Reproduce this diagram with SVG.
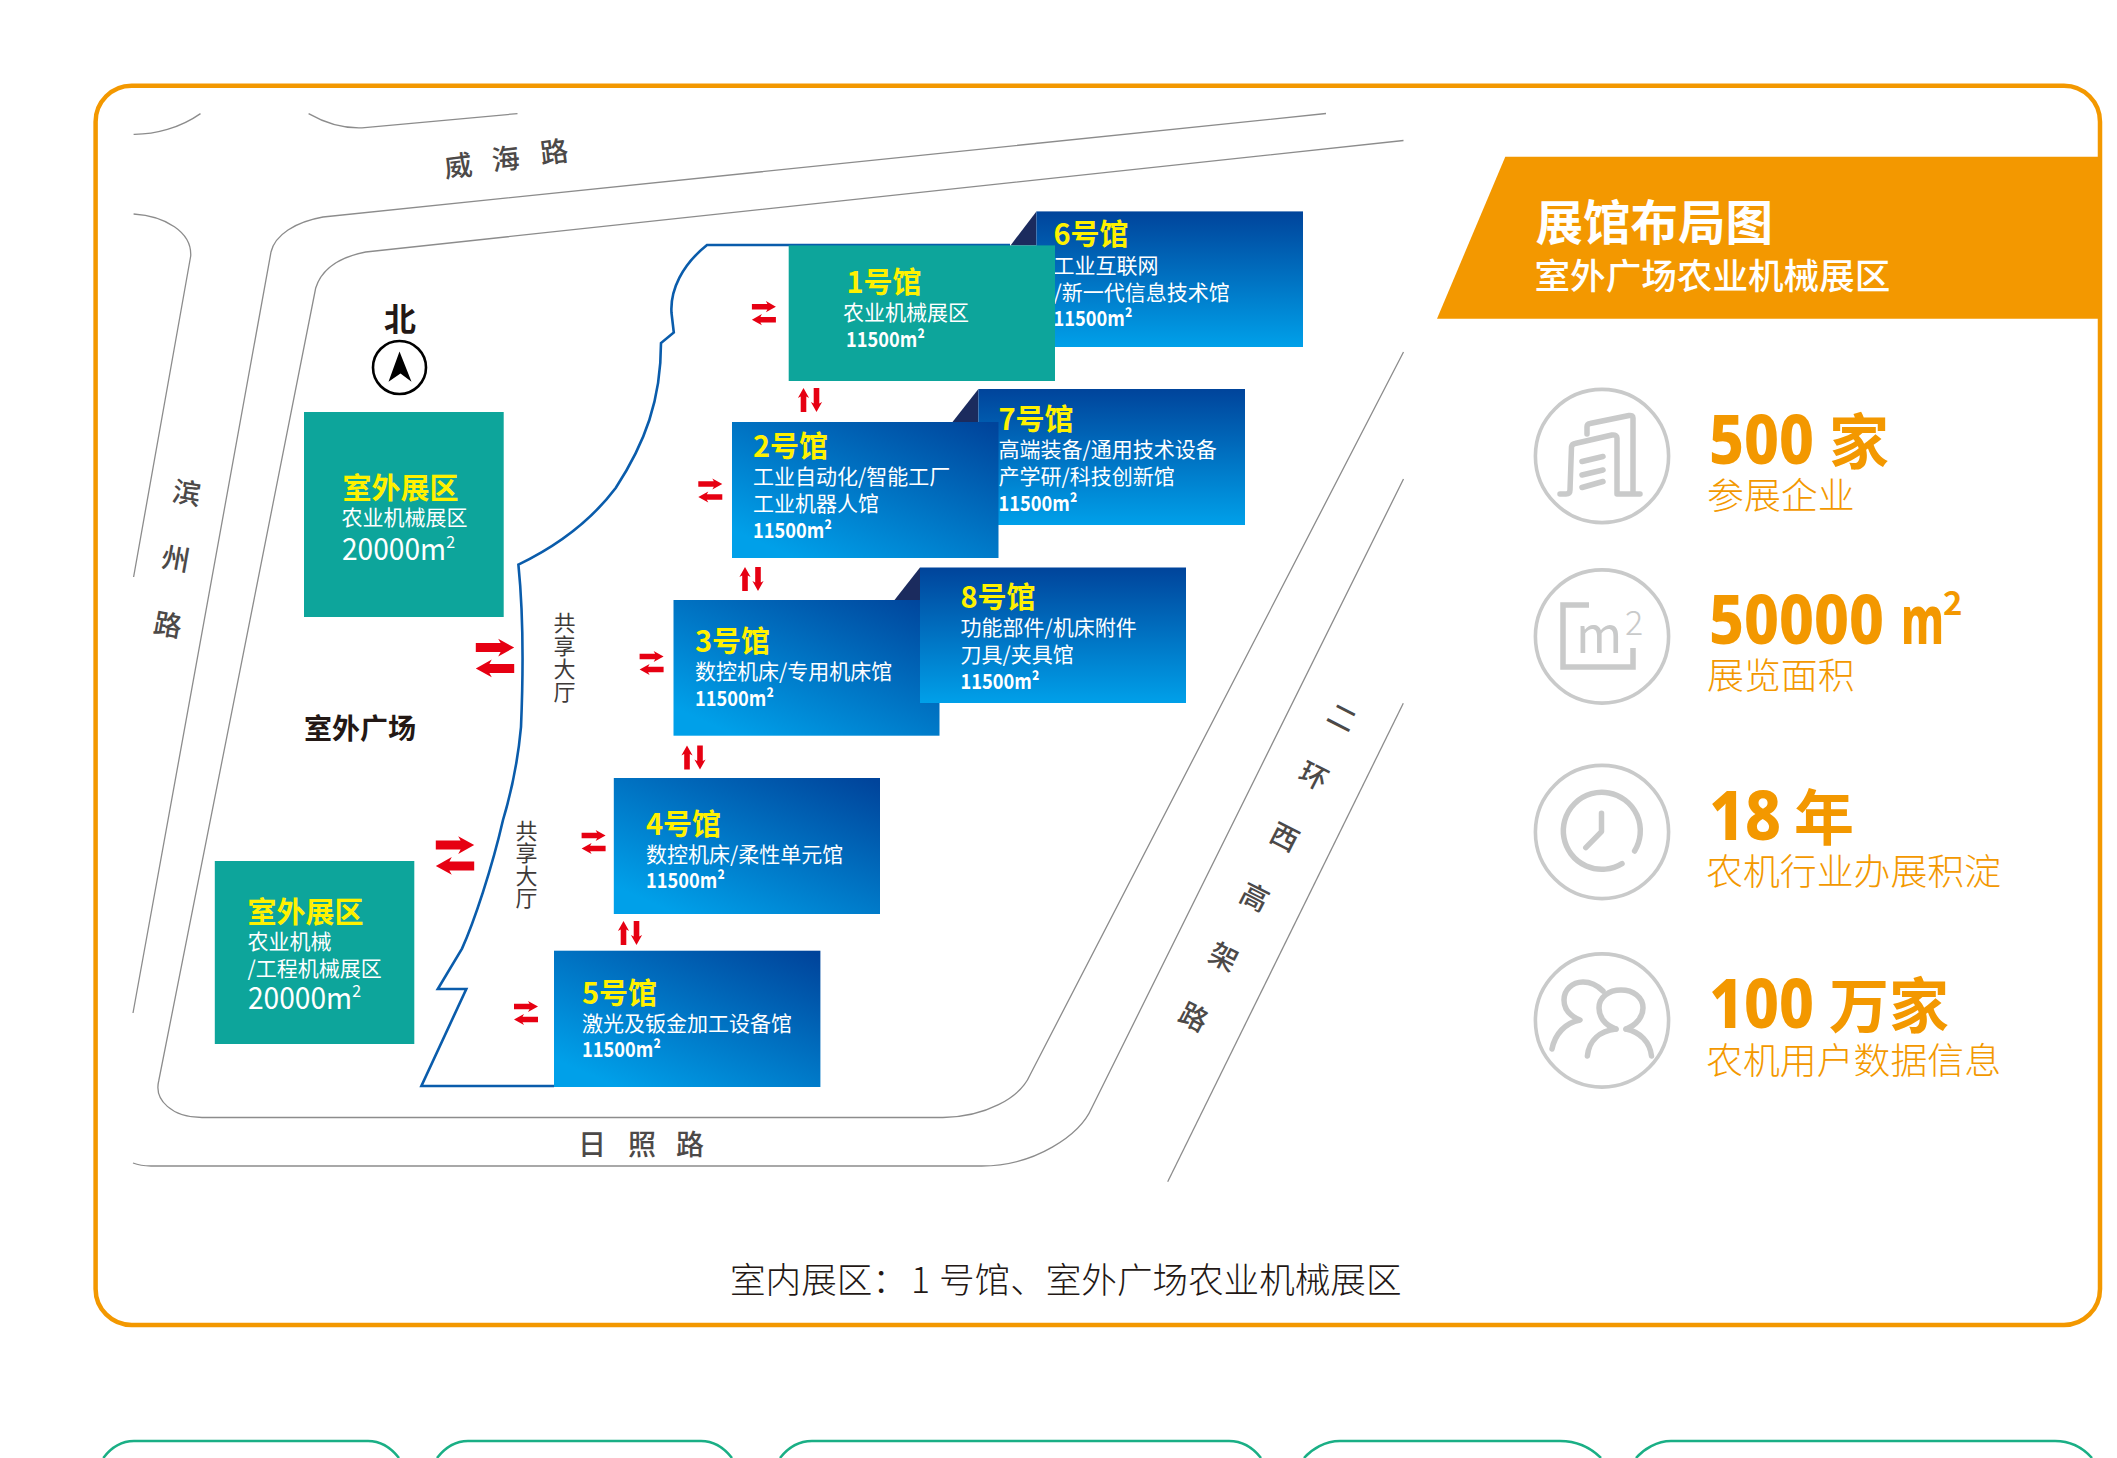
<svg xmlns="http://www.w3.org/2000/svg" width="2117" height="1458" viewBox="0 0 2117 1458">
<style>
text{font-family:"Noto Sans CJK SC","Noto Sans",sans-serif}
.road{fill:none;stroke:#8c8c8c;stroke-width:1.3}
.tt{font-size:29px;font-weight:700;fill:#fff100}
.sb{font-size:21px;fill:#fff}
.nm{font-size:21px;font-weight:700;fill:#fff}
.ar{font-size:30px;fill:#fff}
.rd{font-size:28px;font-weight:500;fill:#4c4948;text-anchor:middle}
.hall{font-size:22px;fill:#3e3a39;text-anchor:middle}
.big{font-size:60px;font-weight:700;fill:#f39800}
.dg{font-family:"Noto Sans",sans-serif;font-size:67px;font-weight:800}
.sm{font-size:36.9px;font-weight:300;fill:#f39800}
.ic{fill:none;stroke:#c9caca;stroke-width:5.5;stroke-linecap:round;stroke-linejoin:round}
.ring{fill:none;stroke:#c9caca;stroke-width:3.6}
.tab{fill:none;stroke:#1aaf85;stroke-width:2.5}
</style>
<defs>
<linearGradient id="gv" x1="0" y1="0" x2="0" y2="1"><stop offset="0" stop-color="#00449b"/><stop offset="1" stop-color="#00a0e9"/></linearGradient>
<linearGradient id="gd" x1="0.18" y1="0.95" x2="0.98" y2="0.02"><stop offset="0" stop-color="#00a0e9"/><stop offset="1" stop-color="#00449b"/></linearGradient>
<path id="ar" fill="#e60012" d="M-12,-2.8H3.5L2,-5.6L12,0L2,5.6L3.5,2.8H-12Z"/>
<g id="pair"><use href="#ar" y="-6.5"/><use href="#ar" transform="translate(0,6.5) rotate(180)"/></g>
</defs>
<rect width="2117" height="1458" fill="#fff"/>

<g id="frame"><rect x="95.6" y="85.7" width="2004.4" height="1239.3" rx="36" ry="36" fill="none" stroke="#f39800" stroke-width="4.5"/></g>

<g id="roads">
<path class="road" d="M133.6,134.3C155,134.5 180,128 200.5,113.6"/>
<path class="road" d="M308.6,113.6C325,123 342,128.5 362,127.8L517.5,113.6"/>
<path class="road" d="M133.6,214C165,216 192,232 190.7,256L133.6,577"/>
<path class="road" d="M1326,113.5L323,217C295,222 275,235 271,252L133,1013"/>
<path class="road" d="M1403.500,140.500L365.7,252C340,257 322,268 315.7,288L158.7,1081C154,1100 172,1117.500 202,1117.500H943C985,1117 1020,1098 1030,1075L1403.500,352"/>
<path class="road" d="M133,1163C138,1165 144,1166 151,1166H981.7C1035,1166 1080,1135 1091.7,1108L1403.500,479"/>
<path class="road" d="M1403.300,703.300L1167.7,1181.7"/>
</g>

<g id="building-outline"><path fill="none" stroke="#0a5cab" stroke-width="2.6" d="M1010,245H707C682,265 670,290 671.5,313L673.8,332.5L661,343C661,400 645,443 615.7,488C590,522 555,547 518.4,564.6C524,620 523,680 521,727C518,760 512,790 503,820C492,868 474,922 462,948.6L437.8,989H466.3L421.4,1086H554"/></g>

<g id="road-labels">
<text class="rd" transform="translate(459.5,176) rotate(-7)">威</text>
<text class="rd" transform="translate(507,169) rotate(-7)">海</text>
<text class="rd" transform="translate(555.4,162) rotate(-7)">路</text>
<text class="rd" transform="translate(185,503) rotate(10)">滨</text>
<text class="rd" transform="translate(174,569) rotate(10)">州</text>
<text class="rd" transform="translate(166,635) rotate(10)">路</text>
<text class="rd" x="592" y="1155">日</text>
<text class="rd" x="642" y="1155">照</text>
<text class="rd" x="690" y="1155">路</text>
<text class="rd" transform="translate(1337.5,726.5) rotate(27)">二</text>
<text class="rd" transform="translate(1309,785) rotate(27)">环</text>
<text class="rd" transform="translate(1280,846) rotate(27)">西</text>
<text class="rd" transform="translate(1250,906) rotate(27)">高</text>
<text class="rd" transform="translate(1219,966) rotate(27)">架</text>
<text class="rd" transform="translate(1189,1026) rotate(27)">路</text>
<text x="304" y="738.5" font-size="28" font-weight="700" fill="#231815">室外广场</text>
<text class="hall" x="564.5"><tspan x="564.5" y="631">共</tspan><tspan x="564.5" y="654">享</tspan><tspan x="564.5" y="677">大</tspan><tspan x="564.5" y="700">厅</tspan></text>
<text class="hall" x="526.5"><tspan x="526.5" y="839">共</tspan><tspan x="526.5" y="861">享</tspan><tspan x="526.5" y="884">大</tspan><tspan x="526.5" y="906">厅</tspan></text>
</g>

<g id="north">
<text x="400" y="331" font-size="32" font-weight="700" fill="#231815" text-anchor="middle">北</text>
<circle cx="399.500" cy="367.5" r="26.5" fill="none" stroke="#000" stroke-width="2.6"/>
<path d="M399.500,351.4L411.500,381.8L400.500,373.6L388.500,381.8Z" fill="#000"/>
</g>

<g id="outdoor-1"><rect x="304" y="412" width="199.7" height="205" fill="#0da59b"/>
<text class="tt" x="342.500" y="498.500">室外展区</text>
<text class="sb" x="341.500" y="525">农业机械展区</text>
<text class="ar" x="342" y="560" textLength="113" lengthAdjust="spacingAndGlyphs">20000m<tspan font-size="17" dy="-12">2</tspan></text></g>

<g id="outdoor-2"><rect x="214.8" y="861" width="199.5" height="183" fill="#0da59b"/>
<text class="tt" x="247.500" y="922.500">室外展区</text>
<text class="sb" x="247.500" y="949">农业机械</text>
<text class="sb" x="247.500" y="976">/工程机械展区</text>
<text class="ar" x="248" y="1009" textLength="113" lengthAdjust="spacingAndGlyphs">20000m<tspan font-size="17" dy="-12">2</tspan></text></g>

<g id="hall-6"><path d="M1010.5,245.4L1036.4,211.4V245.4Z" fill="#1b2b5e"/><rect x="1036.4" y="211.4" width="266.6" height="135.6" fill="url(#gv)"/>
<text class="tt" x="1053.5" y="245">6号馆</text>
<text class="sb" x="1053.5" y="273">工业互联网</text>
<text class="sb" x="1053.5" y="300">/新一代信息技术馆</text>
<text class="nm" x="1053.5" y="326" textLength="79" lengthAdjust="spacingAndGlyphs">11500m²</text></g>

<g id="hall-1"><rect x="788.7" y="245.4" width="266.3" height="135.6" fill="#0da59b"/>
<text class="tt" x="846.5" y="293">1号馆</text>
<text class="sb" x="843" y="320">农业机械展区</text>
<text class="nm" x="846" y="347" textLength="79" lengthAdjust="spacingAndGlyphs">11500m²</text></g>

<g id="hall-7"><path d="M952.5,422L978.4,389V422Z" fill="#1b2b5e"/><rect x="978.4" y="389" width="266.6" height="136" fill="url(#gv)"/>
<text class="tt" x="998.5" y="430">7号馆</text>
<text class="sb" x="998.5" y="457">高端装备/通用技术设备</text>
<text class="sb" x="998.5" y="484">产学研/科技创新馆</text>
<text class="nm" x="998.5" y="511" textLength="79" lengthAdjust="spacingAndGlyphs">11500m²</text></g>

<g id="hall-2"><rect x="732" y="422" width="266.5" height="136" fill="url(#gd)"/>
<text class="tt" x="753" y="457">2号馆</text>
<text class="sb" x="753" y="484">工业自动化/智能工厂</text>
<text class="sb" x="753" y="511">工业机器人馆</text>
<text class="nm" x="753" y="538" textLength="79" lengthAdjust="spacingAndGlyphs">11500m²</text></g>

<g id="hall-3"><rect x="673.5" y="600" width="266" height="135.7" fill="url(#gd)"/>
<text class="tt" x="695" y="652">3号馆</text>
<text class="sb" x="695" y="679">数控机床/专用机床馆</text>
<text class="nm" x="695" y="706" textLength="79" lengthAdjust="spacingAndGlyphs">11500m²</text></g>

<g id="hall-8"><path d="M894.5,600L920,567.5V600Z" fill="#1b2b5e"/><rect x="920" y="567.5" width="266" height="135.5" fill="url(#gv)"/>
<text class="tt" x="960.5" y="608">8号馆</text>
<text class="sb" x="960.5" y="635">功能部件/机床附件</text>
<text class="sb" x="960.5" y="662">刀具/夹具馆</text>
<text class="nm" x="960.5" y="689" textLength="79" lengthAdjust="spacingAndGlyphs">11500m²</text></g>

<g id="hall-4"><rect x="613.8" y="778" width="266.2" height="136" fill="url(#gd)"/>
<text class="tt" x="646" y="835">4号馆</text>
<text class="sb" x="646" y="862">数控机床/柔性单元馆</text>
<text class="nm" x="646" y="888" textLength="79" lengthAdjust="spacingAndGlyphs">11500m²</text></g>

<g id="hall-5"><rect x="554" y="950.7" width="266.4" height="136.3" fill="url(#gd)"/>
<text class="tt" x="582" y="1004">5号馆</text>
<text class="sb" x="582" y="1031">激光及钣金加工设备馆</text>
<text class="nm" x="582" y="1057" textLength="79" lengthAdjust="spacingAndGlyphs">11500m²</text></g>

<g id="connectors">
<use href="#pair" transform="translate(763.9,313.2)"/>
<use href="#pair" transform="translate(710.3,490.5)"/>
<use href="#pair" transform="translate(651.6,663)"/>
<use href="#pair" transform="translate(593.6,842)"/>
<use href="#pair" transform="translate(526,1013)"/>
<use href="#pair" transform="translate(495,658) scale(1.6)"/>
<use href="#pair" transform="translate(455,855.5) scale(1.6)"/>
<use href="#pair" transform="translate(810,400) rotate(-90)"/>
<use href="#pair" transform="translate(751.5,579) rotate(-90)"/>
<use href="#pair" transform="translate(693.5,757.5) rotate(-90)"/>
<use href="#pair" transform="translate(630,933) rotate(-90)"/>
</g>

<g id="caption">
<text y="1293" font-size="35.6" font-weight="200" fill="#231815"><tspan x="730">室内展区：</tspan><tspan x="911">1</tspan><tspan x="939">号馆、室外广场农业机械展区</tspan></text>
</g>

<g id="banner">
<path d="M1505.3,156.8H2100V318.7H1437Z" fill="#f39800"/>
<text x="1535.5" y="240" font-size="47.5" font-weight="700" fill="#fff">展馆布局图</text>
<text x="1534.5" y="289" font-size="35.6" font-weight="500" fill="#fff">室外广场农业机械展区</text>
</g>

<g id="stat-exhibitors">
<circle class="ring" cx="1602" cy="456" r="66.6"/>
<path class="ic" d="M1560,494H1566Q1570,494 1570,490L1571.500,447Q1572,444 1575,443.500L1612,435Q1617,434.500 1617,438V494H1640"/>
<path class="ic" d="M1587,434V427Q1587,424 1590,423.500L1629,415.500Q1633,415 1633,418V492"/>
<path class="ic" d="M1582,461.500L1603,456.500M1582,475L1603,470M1582,487.500L1603,481.500"/>
<text class="big" y="464"><tspan class="dg" x="1709" textLength="105" lengthAdjust="spacingAndGlyphs">500</tspan> <tspan x="1829">家</tspan></text>
<text class="sm" x="1707" y="509">参展企业</text>
</g>

<g id="stat-area">
<circle class="ring" cx="1602" cy="636.5" r="66.6"/>
<path d="M1589,605H1563V667H1633V648" fill="none" stroke="#c9caca" stroke-width="5.5"/>
<text x="1576" y="653" font-size="50" fill="#c9caca">m</text>
<text x="1625" y="635" font-size="34" font-weight="300" fill="#c9caca">2</text>
<text class="big" y="644"><tspan class="dg" x="1709" textLength="175" lengthAdjust="spacingAndGlyphs">50000</tspan> <tspan class="dg" x="1901" textLength="43" lengthAdjust="spacingAndGlyphs">m</tspan></text>
<text x="1943" y="614.500" font-size="33" font-weight="700" fill="#f39800">2</text>
<text class="sm" x="1707" y="689">展览面积</text>
</g>

<g id="stat-years">
<circle class="ring" cx="1602" cy="832" r="66.6"/>
<path class="ic" d="M1634.600,851A38.500,38.500 0 1 0 1622,863.600"/>
<path class="ic" d="M1601.500,813.300V831.600L1585.800,847.600"/>
<text class="big" y="840"><tspan class="dg" x="1709" textLength="72" lengthAdjust="spacingAndGlyphs">18</tspan> <tspan x="1794">年</tspan></text>
<text class="sm" x="1706" y="885">农机行业办展积淀</text>
</g>

<g id="stat-users">
<circle class="ring" cx="1602" cy="1020.500" r="66.6"/>
<path class="ic" d="M1616,1029C1604,1025 1599,1016 1599,1008C1599,997 1609,990 1621,990C1633,990 1643,997 1643,1008C1643,1016 1637,1025 1626,1029"/>
<path class="ic" d="M1587.400,1056C1589,1040 1600,1031 1616,1029M1626,1029C1640,1032 1650,1042 1651.500,1056"/>
<path class="ic" d="M1603,991C1597,985 1590,982 1583,982C1572,982 1564,990 1564,1000C1564,1009 1570,1016 1580,1020C1565,1023 1555,1034 1552,1049"/>
<text class="big" y="1028"><tspan class="dg" x="1709" textLength="105" lengthAdjust="spacingAndGlyphs">100</tspan> <tspan x="1829">万家</tspan></text>
<text class="sm" x="1706" y="1074">农机用户数据信息</text>
</g>

<g id="bottom-tabs">
<path class="tab" d="M103.300,1458C110,1449 120,1441 134,1441H368C382,1441 392,1449 399,1458"/>
<path class="tab" d="M437,1458C444,1449 454,1441 468,1441H701C715,1441 725,1449 732,1458"/>
<path class="tab" d="M780,1458C787,1449 797,1441 812,1441H1229C1244,1441 1254,1449 1261,1458"/>
<path class="tab" d="M1304,1458C1312,1449 1325,1441 1340,1441H1560C1578,1441 1592,1449 1601,1458"/>
<path class="tab" d="M1636,1458C1644,1449 1657,1441 1671,1441H2055C2072,1441 2084,1449 2092,1458"/>
</g>
</svg>
